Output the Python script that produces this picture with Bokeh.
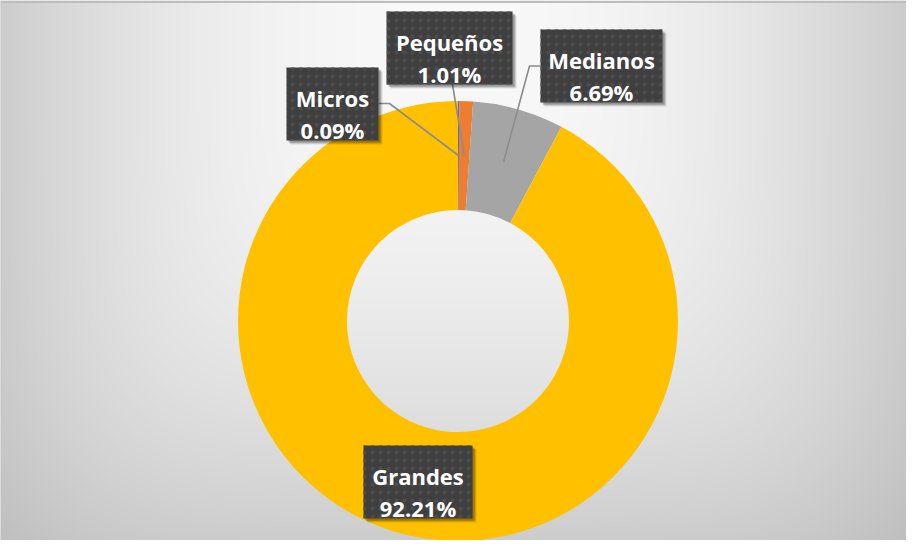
import numpy as np
from bokeh.plotting import figure
from bokeh.models import Range1d, ColumnDataSource, Span
from bokeh.core.properties import value
from bokeh.embed import file_html
from bokeh.resources import INLINE

# ---- data ----
categories = ["Micros", "Pequeños", "Medianos", "Grandes"]
shares = [0.09, 1.01, 6.69, 92.21]
colors = ["#4472C4", "#ED7D31", "#A5A5A5", "#FFC000"]

# ---- layout ----
W, H = 906, 540
OX, OY = 8, 8  # page offset


def px(x):
    return x - OX


def py(y):
    return H - (y - OY)


p = figure(width=W, height=H, x_range=Range1d(0, W), y_range=Range1d(0, H),
           output_backend="svg", toolbar_location=None, min_border=0)
p.axis.visible = False
p.grid.visible = False
p.outline_line_color = None
p.background_fill_color = "#e0e0e0"
p.border_fill_color = "#e0e0e0"

# background gradient (style only)
xs = np.arange(W) + 0.5
ys = np.arange(H) + 0.5
X, Y = np.meshgrid(xs, ys)
gcx, gcy = 452.0, 12.0
d = ((np.abs(X - gcx) / 460.0) ** 5 + (np.abs(Y - gcy) / 540.0) ** 5) ** 0.2
v = np.clip(249 - 46 * d ** 2, 0, 255).astype(np.uint8)
v = v[::-1]
img = np.empty((H, W), dtype=np.uint32)
view = img.view(dtype=np.uint8).reshape((H, W, 4))
view[:, :, 0] = v
view[:, :, 1] = v
view[:, :, 2] = v
view[:, :, 3] = 255
p.image_rgba(image=[img], x=0, y=0, dw=W, dh=H)

# border (top / left visible in reference)
p.add_layout(Span(location=H - 1.5, dimension="width", line_color="#bdbdbd", line_width=2))
p.add_layout(Span(location=0.5, dimension="height", line_color="#c4c4c4", line_width=1))

# ---- donut ----
cx, cy = px(465.5), py(328.5)
r_out, r_in = 220, 111
vals = np.array(shares, dtype=float)
frac = vals / vals.sum()
cum = np.cumsum(frac)
prev = cum - frac
start = np.pi / 2 - 2 * np.pi * prev
end = np.pi / 2 - 2 * np.pi * cum
src = ColumnDataSource(dict(start=end, end=start, color=colors, cat=categories))
p.annular_wedge(x=cx, y=cy, inner_radius=r_in, outer_radius=r_out,
                start_angle="start", end_angle="end", color="color",
                line_color=None, source=src)

# anchors at middle of ring, mid-angle
mid = (start + end) / 2
r_mid = (r_in + r_out) / 2
ax = cx + r_mid * np.cos(mid)
ay = cy + r_mid * np.sin(mid)

# ---- label boxes (layout) ----
box_cx = [340, 457, 609, 425.5]
box_top = [75, 19, 37, 453]
box_w = [92, 126, 122, 109]
box_h = 73

# leader lines: (points of box attach) -> anchor
lead_color = "#8c8c8c"
p.line([px(386), px(397), ax[0]], [py(111), py(111), ay[0]], line_color=lead_color, line_width=1.6)
p.line([px(460), ax[1]], [py(92), ay[1]], line_color=lead_color, line_width=1.6)
p.line([px(548), px(537), ax[2]], [py(73.5), py(73.5), ay[2]], line_color=lead_color, line_width=1.6)

left = [px(c - w / 2) for c, w in zip(box_cx, box_w)]
right = [px(c + w / 2) for c, w in zip(box_cx, box_w)]
top = [py(t) for t in box_top]
bottom = [py(t + box_h) for t in box_top]

# shadows
for off, a in [(4, 0.10), (3, 0.15), (2, 0.2)]:
    p.quad(left=[l + off for l in left], right=[r + off for r in right],
           top=[t - off for t in top], bottom=[b - off for b in bottom],
           fill_color="black", fill_alpha=a, line_color=None)

p.quad(left=left, right=right, top=top, bottom=bottom,
       fill_color="#3f3f3f", line_color=None,
       hatch_pattern="dot", hatch_color="#4d4d4d", hatch_scale=8, hatch_weight=1)

line1_y = [py(t + 30) for t in box_top]
line2_y = [py(t + 62) for t in box_top]
pct = [f"{s:.2f}%" for s in shares]
tx = [px(c) for c in box_cx]
for ys_, txt in [(line1_y, categories), (line2_y, pct)]:
    p.text(x=tx, y=ys_, text=txt, text_font=value("Open Sans"), text_font_style="bold",
           text_font_size="22px", text_color="white", text_align="center",
           text_baseline="alphabetic")

open("out.html", "w").write(file_html(p, INLINE))
